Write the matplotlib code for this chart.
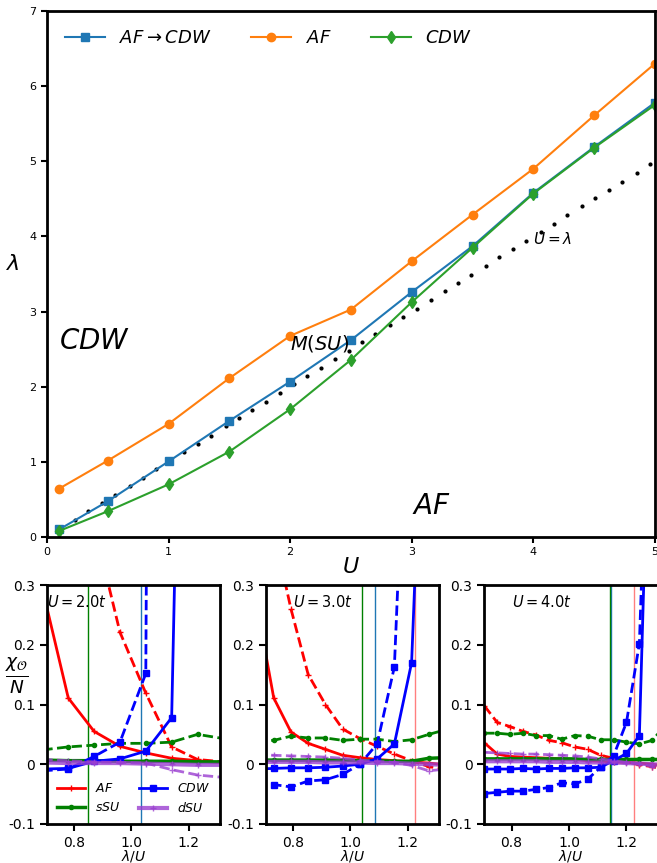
import matplotlib
matplotlib.use('Agg')
import matplotlib.pyplot as plt

# phase diagram (top)
U = [0.1, 0.5, 1.0, 1.5, 2.0, 2.5, 3.0, 3.5, 4.0, 4.5, 5.0]
lam_af_cdw = [0.10, 0.475, 1.005, 1.545, 2.068, 2.62, 3.26, 3.87, 4.58, 5.19, 5.78]
lam_af = [0.643, 1.016, 1.505, 2.113, 2.676, 3.027, 3.67, 4.29, 4.90, 5.61, 6.30]
lam_cdw = [0.08, 0.342, 0.70, 1.136, 1.70, 2.357, 3.125, 3.85, 4.57, 5.18, 5.75]

# U = lambda guide
U_line = [0.00, 0.11, 0.23, 0.34, 0.45, 0.56, 0.68, 0.79, 0.90, 1.01, 1.13, 1.24,
          1.35, 1.47, 1.58, 1.69, 1.80, 1.92, 2.03, 2.14, 2.25, 2.37, 2.48, 2.59,
          2.70, 2.82, 2.93, 3.04, 3.16, 3.27, 3.38, 3.49, 3.61, 3.72, 3.83, 3.94,
          4.06, 4.17, 4.28, 4.40, 4.51, 4.62, 4.73, 4.85, 4.96]

# susceptibilities, U = 2t
x_U2 = [0.69, 0.78, 0.87, 0.96, 1.05, 1.14, 1.23, 1.32]
af_U2 = [0.294, 0.111, 0.055, 0.030, 0.019, 0.010, 0.006, 0.002]
af_U2_d = [1.2, 0.70, 0.40, 0.221, 0.119, 0.029, 0.008, 0.004]
cdw_U2 = [-0.008, -0.007, 0.005, 0.009, 0.022, 0.078, 2.1, 5.0]
cdw_U2_d = [-0.011, -0.008, 0.013, 0.037, 0.152, 8.0, 20.0, 40.0]
ssu_U2 = [0.007, 0.006, 0.006, 0.005, 0.005, 0.005, 0.004, 0.004]
ssu_U2_d = [0.024, 0.029, 0.032, 0.035, 0.035, 0.037, 0.050, 0.043]
dsu_U2 = [0.003, 0.002, 0.002, 0.002, 0.001, 0.000, -0.001, -0.001]
dsu_U2_d = [0.008, 0.006, 0.004, 0.003, 0.002, -0.009, -0.018, -0.022]

# U = 3t
x_U3 = [0.673, 0.733, 0.793, 0.853, 0.913, 0.973, 1.033, 1.093, 1.153, 1.213, 1.273, 1.333]
af_U3 = [0.27, 0.111, 0.054, 0.035, 0.025, 0.015, 0.011, 0.008, 0.006, 0.004, 0.002, -0.001]
af_U3_d = [0.6, 0.39, 0.26, 0.150, 0.100, 0.059, 0.043, 0.030, 0.017, 0.006, -0.004, -0.008]
cdw_U3 = [-0.008, -0.007, -0.006, -0.006, -0.005, -0.003, 0.000, 0.009, 0.034, 0.170, 0.9, 3.0]
cdw_U3_d = [-0.034, -0.034, -0.038, -0.028, -0.026, -0.017, 0.000, 0.034, 0.163, 0.85, 3.0, 6.0]
ssu_U3 = [0.007, 0.007, 0.007, 0.007, 0.007, 0.007, 0.006, 0.006, 0.005, 0.005, 0.010, 0.011]
ssu_U3_d = [0.040, 0.040, 0.047, 0.044, 0.044, 0.040, 0.042, 0.042, 0.038, 0.041, 0.050, 0.058]
dsu_U3 = [0.004, 0.004, 0.004, 0.004, 0.003, 0.003, 0.003, 0.002, 0.002, 0.001, 0.000, -0.001]
dsu_U3_d = [0.016, 0.015, 0.014, 0.013, 0.012, 0.010, 0.007, 0.005, 0.003, -0.002, -0.011, -0.008]

# U = 4t
x_U4 = [0.705, 0.75, 0.795, 0.84, 0.885, 0.93, 0.975, 1.02, 1.065, 1.11, 1.155, 1.2, 1.245, 1.29, 1.335]
af_U4 = [0.036, 0.017, 0.013, 0.012, 0.011, 0.010, 0.009, 0.008, 0.006, 0.005, 0.004, 0.003, 0.002, 0.000, -0.003]
af_U4_d = [0.098, 0.070, 0.063, 0.055, 0.049, 0.040, 0.036, 0.029, 0.025, 0.015, 0.010, 0.005, -0.001, -0.004, -0.008]
cdw_U4 = [-0.008, -0.008, -0.008, -0.007, -0.008, -0.007, -0.007, -0.006, -0.006, -0.005, 0.006, 0.018, 0.048, 0.80, 3.0]
cdw_U4_d = [-0.049, -0.047, -0.045, -0.045, -0.042, -0.039, -0.031, -0.033, -0.025, -0.005, 0.014, 0.070, 0.202, 0.83, 3.0]
ssu_U4 = [0.009, 0.009, 0.009, 0.009, 0.009, 0.009, 0.009, 0.009, 0.008, 0.008, 0.008, 0.008, 0.008, 0.008, 0.008]
ssu_U4_d = [0.052, 0.052, 0.050, 0.052, 0.048, 0.048, 0.042, 0.048, 0.047, 0.041, 0.041, 0.037, 0.034, 0.040, 0.065]
dsu_U4 = [0.005, 0.005, 0.005, 0.005, 0.005, 0.004, 0.004, 0.004, 0.003, 0.003, 0.003, 0.002, 0.001, 0.000, -0.001]
dsu_U4_d = [0.020, 0.019, 0.018, 0.017, 0.017, 0.016, 0.015, 0.014, 0.012, 0.009, 0.006, 0.003, 0.001, -0.004, -0.008]

panels = [
    (2.0, x_U2, af_U2, af_U2_d, cdw_U2, cdw_U2_d, ssu_U2, ssu_U2_d, dsu_U2, dsu_U2_d),
    (3.0, x_U3, af_U3, af_U3_d, cdw_U3, cdw_U3_d, ssu_U3, ssu_U3_d, dsu_U3, dsu_U3_d),
    (4.0, x_U4, af_U4, af_U4_d, cdw_U4, cdw_U4_d, ssu_U4, ssu_U4_d, dsu_U4, dsu_U4_d),
]

purple = '#9a3fd0'

fig = plt.figure(figsize=(6.57, 8.63), dpi=100)

ax = fig.add_axes([0.0715, 0.3778, 0.9254, 0.6095])
ax.plot(U_line, U_line, 'k.', ms=4, zorder=1)
ax.plot(U, lam_af_cdw, '-s', color='C0', lw=1.5, ms=6, label=r'$AF\rightarrow CDW$')
ax.plot(U, lam_af, '-o', color='C1', lw=1.5, ms=6, label=r'$AF$')
ax.plot(U, lam_cdw, '-d', color='C2', lw=1.5, ms=6, label=r'$CDW$')
ax.set_xlim(0, 5)
ax.set_ylim(0, 7)
ax.text(0.1, 2.5, r'$CDW$', fontsize=20)
ax.text(2.0, 2.5, r'$M(SU)$', fontsize=14)
ax.text(3.0, 0.3, r'$AF$', fontsize=20)
ax.text(4.0, 3.9, r'$U=\lambda$', fontsize=11)
ax.set_xlabel(r'$U$', fontsize=16, labelpad=0)
ax.set_ylabel(r'$\lambda$', fontsize=16, rotation=0, labelpad=12)
ax.legend(loc='upper left', ncol=3, frameon=False, fontsize=13,
          handlelength=2.2, columnspacing=2.2, borderaxespad=0.6)
ax.tick_params(labelsize=8, width=1.5, length=4)
for s in ax.spines.values():
    s.set_linewidth(2)

lefts = [0.0711, 0.4044, 0.7371]
for i, p in enumerate(panels):
    u, x, af, af_d, cdw, cdw_d, ssu, ssu_d, dsu, dsu_d = p
    a = fig.add_axes([lefts[i], 0.0452, 0.2645, 0.2769])
    # transitions from the phase diagram
    j = U.index(u)
    a.axvline(lam_af_cdw[j] / u, color='C0', lw=1, zorder=1)
    a.axvline(lam_cdw[j] / u, color='green', lw=1, zorder=1)
    a.axvline(lam_af[j] / u, color='red', alpha=0.5, lw=1, zorder=1)

    a.plot(x, af, '-+', color='red', lw=2, ms=4, label=r'$AF$')
    a.plot(x, af_d, '--+', color='red', lw=2, ms=4)
    a.plot(x, ssu, '-o', color='green', lw=2.5, ms=3, label=r'$sSU$')
    a.plot(x, ssu_d, '--o', color='green', lw=2, ms=3)
    a.plot(x, cdw, '-s', color='blue', lw=2, ms=4, label=r'$CDW$')
    a.plot(x, cdw_d, '--s', color='blue', lw=2, ms=4)
    a.plot(x, dsu, '-+', color=purple, lw=3, ms=5, alpha=0.8, label=r'$dSU$')
    a.plot(x, dsu_d, '--+', color=purple, lw=2, ms=5, alpha=0.8)

    a.set_xlim(0.705, 1.31)
    a.set_ylim(-0.1, 0.3)
    a.set_xticks([0.8, 1.0, 1.2])
    a.set_yticks([-0.1, 0, 0.1, 0.2, 0.3])
    a.set_yticklabels(['-0.1', '0', '0.1', '0.2', '0.3'])
    a.tick_params(labelsize=10, width=1.5, length=5)
    a.set_xlabel(r'$\lambda/U$', fontsize=10, labelpad=-1)
    for s in a.spines.values():
        s.set_linewidth(2)
    tx = 0.705 if i == 0 else 0.8
    a.text(tx, 0.272, r'$U=%.1ft$' % u, fontsize=10.5, va='center')
    if i == 0:
        a.legend(loc='lower center', ncol=2, frameon=False, fontsize=9,
                 handlelength=2.2, columnspacing=1.5, borderaxespad=0.3)

fig.text(0.025, 1 - 676 / 863, r'$\frac{\chi_\mathcal{O}}{N}$', fontsize=19,
         ha='center', va='center')

plt.savefig('out.png', dpi=100)
